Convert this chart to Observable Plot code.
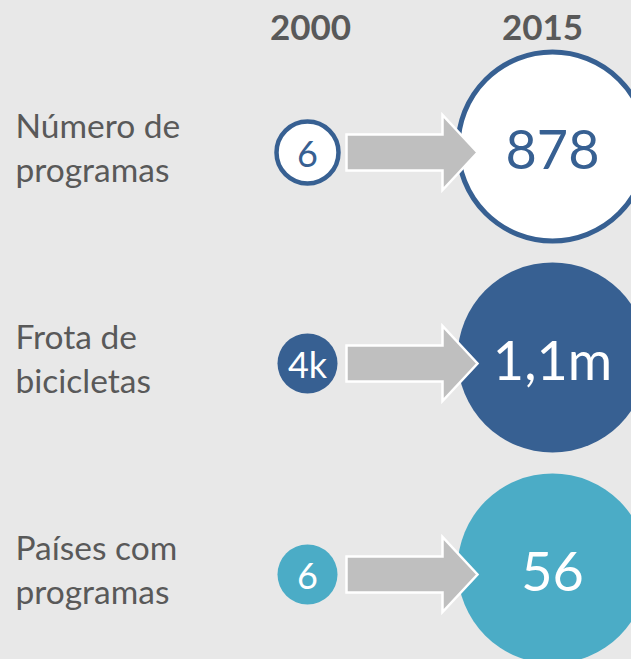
<!DOCTYPE html>
<html>
<head>
<meta charset="utf-8">
<script src="https://cdn.jsdelivr.net/npm/d3@7"></script>
<script src="https://cdn.jsdelivr.net/npm/@observablehq/plot@0.6"></script>
<style>
  html, body { margin: 0; padding: 0; background: #e8e8e8; }
  #chart svg { display: block; }
</style>
</head>
<body>
<div id="chart"></div>
<script>
// ---- data ----
const metrics = ["Número de\nprogramas", "Frota de\nbicicletas", "Países com\nprogramas"];
const years = ["2000", "2015"];
const values2000 = ["6", "4k", "6"];
const values2015 = ["878", "1,1m", "56"];
const kinds = ["outline", "dark", "light"];

// ---- styles ----
const DARK = "#376092", LIGHT = "#4bacc6", GRAY_TXT = "#595959";
const fillOf = k => k === "outline" ? "#ffffff" : k === "dark" ? DARK : LIGHT;
const strokeOf = k => k === "outline" ? DARK : "none";
const textColorOf = k => k === "outline" ? DARK : "#ffffff";

const rows = [];
metrics.forEach((m, i) => {
  rows.push({metric: m, year: years[0], label: values2000[i], kind: kinds[i]});
  rows.push({metric: m, year: years[1], label: values2015[i], kind: kinds[i]});
});
const start = rows.filter(d => d.year === years[0]);
const end = rows.filter(d => d.year === years[1]);

// block arrow symbol
const blockArrow = {
  draw(ctx) {
    const L = -65.5, H = 30.5, T = 65.5, b = 18, h = 37.5;
    ctx.moveTo(L, -b); ctx.lineTo(H, -b); ctx.lineTo(H, -h); ctx.lineTo(T, 0);
    ctx.lineTo(H, h); ctx.lineTo(H, b); ctx.lineTo(L, b); ctx.closePath();
  }
};

const chart = Plot.plot({
  width: 631,
  height: 659,
  margin: 0,
  style: {background: "#e8e8e8", fontFamily: "Lato, 'Open Sans', sans-serif"},
  x: {type: "point", domain: years, range: [307, 552], padding: 0, axis: null},
  y: {type: "point", domain: metrics, range: [152, 574], padding: 0, axis: null},
  color: {type: "identity"},
  r: {type: "identity"},
  marks: [
    // small circles (2000)
    Plot.dot(start, {x: "year", y: "metric", r: d => d.kind === "outline" ? 31 : 30,
      fill: d => fillOf(d.kind), stroke: d => strokeOf(d.kind), strokeWidth: 4.5}),
    // big circles (2015)
    Plot.dot(end, {x: "year", y: "metric", dy: -6, r: d => d.kind === "outline" ? 94.5 : 95,
      fill: d => fillOf(d.kind), stroke: d => strokeOf(d.kind), strokeWidth: 5}),
    // arrows
    Plot.dot(start, {x: "year", y: "metric", dx: 104.5, r: 10, symbol: blockArrow,
      fill: "#bfbfbf", stroke: "#ffffff", strokeWidth: 2.5}),
    // values
    Plot.text(start, {x: "year", y: "metric", text: "label", dy: 3, fontSize: 36,
      fill: d => textColorOf(d.kind)}),
    Plot.text(end, {x: "year", y: "metric", text: "label", dy: -1, fontSize: 54,
      fill: d => textColorOf(d.kind)}),
    // row labels
    Plot.text(metrics, {y: d => d, text: d => d, frameAnchor: "left", dx: 15, dy: -7,
      textAnchor: "start", lineAnchor: "middle", lineHeight: 1.32, fontSize: 33.5, fill: GRAY_TXT}),
    // headers
    Plot.text(years.slice(0, 1), {x: d => d, text: d => d, frameAnchor: "top", dx: 3, dy: 15,
      fontSize: 35, fontWeight: 700, fill: GRAY_TXT}),
    Plot.text(years.slice(1), {x: d => d, text: d => d, frameAnchor: "top", dx: -10, dy: 15,
      fontSize: 35, fontWeight: 700, fill: GRAY_TXT})
  ]
});
document.getElementById("chart").append(chart);
</script>
</body>
</html>
